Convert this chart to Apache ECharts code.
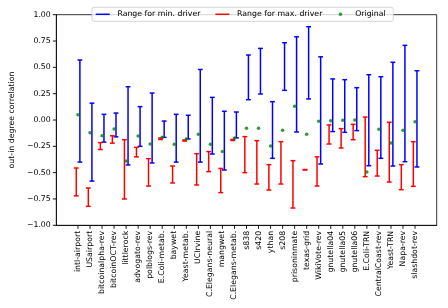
<!DOCTYPE html>
<html>
<head>
<meta charset="utf-8">
<script src="https://cdn.jsdelivr.net/npm/echarts@6/dist/echarts.min.js"></script>
<style>html,body{margin:0;padding:0;background:#fff}#c{width:448px;height:308px}</style>
</head>
<body>
<div id="c"></div>
<script>
const categories = ["intl-airport","USairport","bitcoinalpha-rev","bitcoinOCT-rev","littlerock","advogato-rev","polblogs-rev","E.Coli-metab.","baywet","Yeast-metab.","UCIrvine","C.Elegans-neural","mangwet","C.Elegans-metab.","s838","s420","ythan","s208","prisoninmate","texas-grid","WikiVote-rev","gnutella04","gnutella05","gnutella06","E.Coli-TRN","CentralCoast-rev","Yeast-TRN","Napa-rev","slashdot-rev"];
const minDriverLow  = [-0.40,-0.58,-0.21,-0.16,-0.427,-0.25,-0.408,-0.165,-0.40,-0.18,-0.40,-0.323,-0.475,-0.17,0.193,0.247,-0.364,0.282,-0.114,0.20,-0.418,-0.11,-0.117,-0.101,-0.434,-0.364,-0.437,-0.396,-0.446];
const minDriverHigh = [0.57,0.16,0.054,0.066,0.316,0.127,0.256,-0.01,0.054,0.045,0.48,0.215,0.083,0.076,0.617,0.68,0.174,0.734,0.79,0.886,0.60,0.39,0.383,0.307,0.43,0.411,0.548,0.709,0.468];
const maxDriverLow  = [-0.72,-0.82,-0.28,-0.22,-0.75,-0.35,-0.627,-0.185,-0.598,-0.20,-0.617,-0.49,-0.69,-0.195,-0.50,-0.608,-0.665,-0.608,-0.836,-0.475,-0.627,-0.228,-0.266,-0.187,-0.538,-0.532,-0.589,-0.662,-0.63];
const maxDriverHigh = [-0.456,-0.646,-0.215,-0.15,-0.187,-0.26,-0.367,-0.17,-0.437,-0.19,-0.32,-0.30,-0.46,-0.185,-0.158,-0.196,-0.424,-0.206,-0.386,-0.47,-0.35,-0.047,-0.082,-0.041,0.028,-0.288,-0.022,-0.424,-0.206];
const original      = [0.05,-0.12,-0.15,-0.085,-0.39,-0.152,-0.228,-0.165,-0.23,-0.18,-0.136,-0.23,-0.30,-0.17,-0.079,-0.079,-0.247,-0.098,0.13,-0.135,-0.013,-0.006,-0.003,0.0,-0.494,-0.089,-0.218,-0.098,-0.016];
const yTicks = [-1,-0.75,-0.5,-0.25,0,0.25,0.5,0.75,1];

const FONT = 'DejaVu Sans';
const FS = 7.8;
const X_MIN = -1.8, X_MAX = 29.8, Y_MIN = -1, Y_MAX = 1;
function errBar(offset, color) {
  return function (params, api) {
    const x = api.value(0) + offset;
    const p1 = api.coord([x, api.value(1)]);
    const p2 = api.coord([x, api.value(2)]);
    const c = 2.4;
    const st = { stroke: color, lineWidth: 1.5 };
    return { type: 'group', children: [
      { type: 'line', shape: { x1: p1[0], y1: p1[1], x2: p2[0], y2: p2[1] }, style: st },
      { type: 'line', shape: { x1: p1[0]-c, y1: p1[1], x2: p1[0]+c, y2: p1[1] }, style: st },
      { type: 'line', shape: { x1: p2[0]-c, y1: p2[1], x2: p2[0]+c, y2: p2[1] }, style: st }
    ]};
  };
}
const idx = categories.map((c, i) => i);
const axisLineStyle = { show: true, onZero: false, lineStyle: { color: '#000', width: 0.8 } };
const legendBox = {
  id: 'legendBox', type: 'rect', z: 10, shape: { x: 92, y: 7.3, width: 301.3, height: 14, r: 2 },
  style: { fill: 'rgba(255,255,255,0.8)', stroke: '#cccccc', lineWidth: 0.8 }
};
const chart = echarts.init(document.getElementById('c'), null, { renderer: 'canvas' });
chart.setOption({
  animation: false,
  textStyle: { fontFamily: FONT },
  grid: { left: 48.3, right: 11.3, top: 14.7, bottom: 82.7, show: true, borderColor: '#000', borderWidth: 0.8, backgroundColor: 'transparent' },
  xAxis: {
    type: 'value', min: X_MIN, max: X_MAX,
    axisLine: axisLineStyle,
    splitLine: { show: false },
    axisTick: { show: false },
    axisLabel: { rotate: 90, margin: 5.5, fontSize: FS, color: '#000', fontFamily: FONT, customValues: idx,
      formatter: v => categories[Math.round(v)] }
  },
  yAxis: {
    type: 'value', min: Y_MIN, max: Y_MAX, interval: 0.25,
    name: 'out-in degree correlation', nameLocation: 'middle', nameRotate: 90, nameGap: 33,
    nameTextStyle: { fontSize: FS, color: '#000', fontFamily: FONT },
    axisLine: axisLineStyle,
    splitLine: { show: false },
    axisTick: { show: false },
    axisLabel: { margin: 5.5, fontSize: FS, color: '#000', fontFamily: FONT,
      formatter: v => { const s = v.toFixed(2); return s.replace('-', '\u2212'); } }
  },
  graphic: [legendBox],
  legend: [{
    z: 20, selectedMode: false, left: 95.7, top: 9.3, padding: 0, itemGap: 15,
    icon: 'rect', itemWidth: 14, itemHeight: 1.5,
    textStyle: { fontSize: FS, color: '#000', fontFamily: FONT, lineHeight: 10, padding: [0, 0, 0, 2.7] },
    data: ['Range for min. driver', 'Range for max. driver']
  }, {
    z: 20, selectedMode: false, left: 338.7, top: 9.3, padding: 0,
    icon: 'circle', itemWidth: 14, itemHeight: 3.5,
    textStyle: { fontSize: FS, color: '#000', fontFamily: FONT, lineHeight: 10, padding: [0, 0, 0, 2.7] },
    data: ['Original']
  }],
  series: [{
    name: 'Range for min. driver', type: 'custom', itemStyle: { color: '#0000ff' },
    renderItem: errBar(0.16, '#0000ff'), encode: { x: 0, y: [1, 2] },
    data: idx.map(i => [i, minDriverLow[i], minDriverHigh[i]]), z: 2
  }, {
    name: 'Range for max. driver', type: 'custom', itemStyle: { color: '#ff0000' },
    renderItem: errBar(-0.14, '#ff0000'), encode: { x: 0, y: [1, 2] },
    data: idx.map(i => [i, maxDriverLow[i], maxDriverHigh[i]]), z: 3
  }, {
    name: 'Original', type: 'scatter', symbol: 'circle', symbolSize: 3.5,
    itemStyle: { color: '#008000' },
    data: idx.map(i => [i, original[i]]), z: 4
  }]
});
// Tick marks placed through the chart's own scales
const TL = 3.5;
const tickSt = { stroke: '#000', lineWidth: 0.9 };
const ticks = [];
yTicks.forEach((v, k) => {
  const p = chart.convertToPixel({ gridIndex: 0 }, [X_MIN, v]);
  ticks.push({ id: 'yt' + k, type: 'line', z: 15, silent: true,
    shape: { x1: p[0] - TL, y1: p[1], x2: p[0], y2: p[1] }, style: tickSt });
});
idx.forEach(i => {
  const p = chart.convertToPixel({ gridIndex: 0 }, [i, Y_MIN]);
  ticks.push({ id: 'xt' + i, type: 'line', z: 15, silent: true,
    shape: { x1: p[0], y1: p[1], x2: p[0], y2: p[1] + TL }, style: tickSt });
});
chart.setOption({ graphic: [legendBox].concat(ticks) });
</script>
</body>
</html>
